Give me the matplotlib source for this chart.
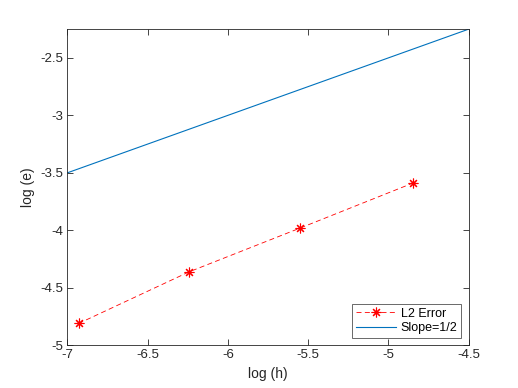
import matplotlib
matplotlib.use("Agg")
import matplotlib.pyplot as plt
import numpy as np

plt.rcParams["font.family"] = ["Liberation Sans", "DejaVu Sans"]

# data
log_h = [-6.93, -6.24, -5.55, -4.85]
log_e = [-4.81, -4.36, -3.98, -3.59]
slope_x = [-7.0, -4.5]
slope_y = [-3.5, -2.25]

xticks = [-7, -6.5, -6, -5.5, -5, -4.5]
yticks = [-5, -4.5, -4, -3.5, -3, -2.5]

AX_COLOR = (0.15, 0.15, 0.15)

fig = plt.figure(figsize=(5.18, 3.88), dpi=100)
ax = fig.add_axes([0.13, 0.11, 0.775, 0.815])

# MATLAB-style asterisk marker (8 arms)
ax.plot(log_h, log_e, color="red", linestyle="--", dashes=(6, 4), marker=(8, 2, 0),
        markersize=7, markeredgewidth=0.8, linewidth=0.6, label="L2 Error")
ax.plot(slope_x, slope_y, color=(0, 0.447, 0.741), linewidth=0.8, label="Slope=1/2")

ax.set_xlim(-7, -4.5)
ax.set_ylim(-5, -2.25)
ax.set_xticks(xticks)
ax.set_yticks(yticks)
ax.set_xticklabels([f"{t:g}" for t in xticks])
ax.set_yticklabels([f"{t:g}" for t in yticks])
ax.tick_params(direction="in", top=True, right=True, length=4, width=0.6,
               colors=AX_COLOR, labelsize=9.5, pad=3)
for sp in ax.spines.values():
    sp.set_color(AX_COLOR)
    sp.set_linewidth(0.6)

ax.set_xlabel("log (h)", fontsize=10, color=AX_COLOR)
ax.set_ylabel("log (e)", fontsize=10, color=AX_COLOR)

leg = ax.legend(loc="lower right", fontsize=9, frameon=True, fancybox=False,
                borderaxespad=0.6, handlelength=3.2, borderpad=0.3,
                labelspacing=0.2, handletextpad=0.4)
leg.get_frame().set_edgecolor(AX_COLOR)
leg.get_frame().set_linewidth(0.6)

fig.savefig("out.png", dpi=100)
